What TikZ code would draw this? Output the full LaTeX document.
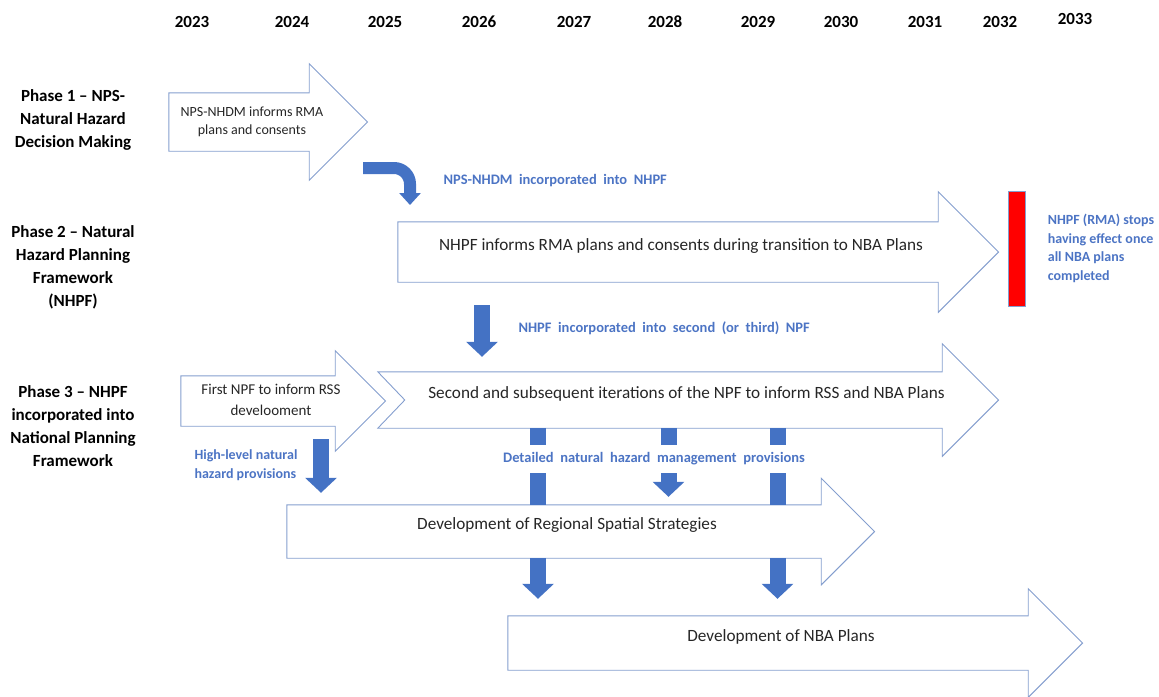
\documentclass[tikz,border=0pt]{standalone}
\usepackage{fontspec}
\setmainfont{Carlito}
\newfontfamily\widefont[WordSpace=2]{Carlito}
\usetikzlibrary{positioning,calc,arrows.meta}
\definecolor{flowblue}{RGB}{68,114,196}
\definecolor{noteblue}{RGB}{76,116,196}
\definecolor{edgeblue}{RGB}{132,158,206}
\definecolor{darktext}{RGB}{38,38,38}
\newcommand{\arrowtext}[1]{\makebox[0pt]{#1}}
\tikzset{
  >={Triangle[width=31pt,length=15pt]},
  my year/.style={font=\fontsize{17}{20}\selectfont\bfseries},
  my phase/.style={
    font=\fontsize{17}{23}\selectfont\bfseries,
    align=center
  },
  my arrow/.style={
    rectangle,
    inner sep=0pt,
    text=darktext
  },
  one line/.style={
    font=\fontsize{17.2}{20}\selectfont,
    text height=12pt,
    text depth=16pt
  },
  arrow edge/.style={draw=edgeblue,line width=0.9pt,line join=miter},
  my flow/.style={draw=flowblue,line width=16pt,->},
  my note/.style={
    text=noteblue,
    font=\widefont\bfseries\fontsize{14.5}{18}\selectfont
  },
  my side note/.style={
    text=noteblue,
    align=left,
    font=\bfseries\fontsize{14}{18.5}\selectfont
  },
  stop bar/.style={draw=edgeblue,fill=red,line width=0.6pt,inner sep=0pt}
}

\begin{document}
\begin{tikzpicture}[x=1pt,y=-1pt]
\useasboundingbox (0,0) rectangle (1159,696);
% Years
\foreach \yr/\xx in {2023/192,2024/292,2025/385,2026/479,2027/574,2028/665,2029/758,2030/841,2031/925,2032/1000}
  \node[my year] (y\yr) at (\xx,22) {\yr};
\node[my year] (y2033) at (1075,19) {2033};
% Phase labels
\node[my phase] (ph1) at (73,120) {Phase 1 – NPS-\\Natural Hazard\\Decision Making};
\node[my phase] (ph2) at (73,267) {Phase 2 – Natural\\Hazard Planning\\Framework\\(NHPF)};
\node[my phase] (ph3) at (73,426) {Phase 3 – NHPF\\incorporated into\\National Planning\\Framework};
% Phase 1 arrow
\node[my arrow,minimum width=114,minimum height=58,font=\fontsize{14}{18}\selectfont] (p1) at (252,122)
  {\arrowtext{\begin{tabular}{@{}c@{}}NPS-NHDM informs RMA\\plans and consents\end{tabular}}};
% Phase 2 arrow
\node[my arrow,one line,minimum width=514,minimum height=60] (p2) at (681,252)
  {\arrowtext{NHPF informs RMA plans and consents during transition to NBA Plans}};
% Phase 3 arrows
\node[my arrow,minimum width=128,minimum height=50,font=\fontsize{15}{21}\selectfont] (p3a) at (271,401)
  {\arrowtext{\begin{tabular}{@{}c@{}}First NPF to inform RSS\\develooment\end{tabular}}};
\node[my arrow,one line,minimum width=511,minimum height=56] (p3b) at (686.5,400)
  {\arrowtext{Second and subsequent iterations of the NPF to inform RSS and NBA Plans}};
\node[my arrow,one line,minimum width=508,minimum height=53] (rss) at (567,531.5)
  {\arrowtext{Development of Regional Spatial Strategies}};
\node[my arrow,one line,minimum width=494,minimum height=54] (nba) at (781,643)
  {\arrowtext{Development of NBA Plans}};
% outlines round the arrow bodies
\foreach \a in {p1,p2,p3a,rss,nba}
  \draw[arrow edge] ($(\a.north west)+(-26,0)$) -- (\a.north east)
    -- ($(\a.south east)!1.5!(\a.north east)$)
    -- ($(\a.east)!2!-90:(\a.north east)$)
    -- ($(\a.north east)!1.5!(\a.south east)$)
    -- (\a.south east) -- ($(\a.south west)+(-26,0)$) -- cycle;
\draw[arrow edge] ($(p3b.north west)+(-53,0)$) -- (p3b.north east)
  -- ($(p3b.south east)!1.5!(p3b.north east)$)
  -- ($(p3b.east)!2!-90:(p3b.north east)$)
  -- ($(p3b.north east)!1.5!(p3b.south east)$)
  -- (p3b.south east) -- ($(p3b.south west)+(-53,0)$)
  -- ($(p3b.west)+(-26,0)$) -- cycle;
% End of NHPF
\node[stop bar,minimum width=17,minimum height=115] (stopbar) at (1016.5,248.5) {};
\node[my side note,right=19pt of stopbar] (stoptext) {NHPF (RMA) stops\\having effect once\\all NBA plans\\completed};
% NPS-NHDM into NHPF
\coordinate (bend) at (363,168);
\coordinate (bendtip) at (410,205);
\draw[my flow,line width=12pt,rounded corners=16pt,-{Triangle[width=21pt,length=12pt]}] (bend) -| (bendtip);
\node[my note,anchor=west] (n1) at (440,181) {NPS-NHDM incorporated into NHPF};
% NHPF into second NPF
\coordinate (d2) at (482,0);
\draw[my flow] ($(p2.south -| d2)+(0,23)$) -- ($(p3b.north -| d2)+(0,-15)$);
\node[my note,anchor=west] (n2) at (515,328) {NHPF incorporated into second (or third) NPF};
% High-level provisions
\coordinate (hl) at (321,0);
\draw[my flow] ($(p3a.south -| hl)+(0,13)$) -- ($(rss.north -| hl)+(0,-12)$);
\node[my side note,anchor=west] (n3) at (191,465) {High-level natural\\hazard provisions};
% Detailed provisions
\foreach \c/\xx in {c1/538,c2/668.5,c3/777.5}
  \coordinate (\c) at (\xx,0);
\foreach \c in {c1,c3}{
  \draw[my flow,-] (p3b.south -| \c) -- (rss.north -| \c);
  \draw[my flow] (rss.south -| \c) -- ($(nba.north -| \c)+(0,-17)$);
}
\draw[my flow] (p3b.south -| c2) -- ($(rss.north -| c2)+(0,-8)$);
\node[my note,fill=white,minimum height=28] (n4) at (654,459) {Detailed natural hazard management provisions};
\end{tikzpicture}
\end{document}
